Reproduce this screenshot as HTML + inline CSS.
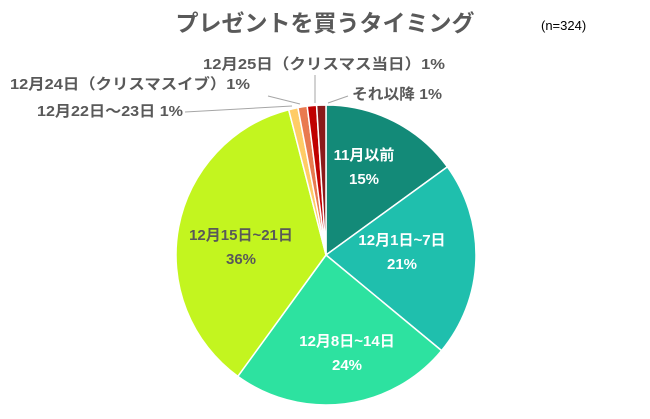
<!DOCTYPE html><html><head><meta charset="utf-8"><style>
body{margin:0;background:#fff}
svg text{font-family:"Liberation Sans","Noto Sans CJK JP",sans-serif;font-weight:bold}
</style></head><body>
<svg id="s" width="650" height="414" viewBox="0 0 650 414" xmlns="http://www.w3.org/2000/svg">
<rect width="650" height="414" fill="#fff"/>
<g id="pie"></g>
<text x="325" y="31" text-anchor="middle" font-size="23" fill="#595959">プレゼントを買うタイミング</text>
<text x="541" y="30" font-size="13" fill="#000" style="font-weight:normal">(n=324)</text>
<g stroke="#a6a6a6" stroke-width="1" fill="none">
<polyline points="315,103 315,75"/>
<polyline points="300,104 268,96"/>
<polyline points="292,106 185,112"/>
<polyline points="328,103 348,96"/>
</g>
<g font-size="15" fill="#595959">
<text x="203" y="69" textLength="242" lengthAdjust="spacingAndGlyphs">12月25日（クリスマス当日）1%</text>
<text x="10" y="89" textLength="240" lengthAdjust="spacingAndGlyphs">12月24日（クリスマスイブ）1%</text>
<text x="37" y="116" textLength="146" lengthAdjust="spacingAndGlyphs">12月22日～23日 1%</text>
<text x="352" y="99" textLength="90" lengthAdjust="spacingAndGlyphs">それ以降 1%</text>
</g>
<g font-size="15" fill="#fff" text-anchor="middle">
<text x="364" y="160">11月以前</text><text x="364" y="184">15%</text>
<text x="402" y="245">12月1日~7日</text><text x="402" y="269">21%</text>
<text x="347" y="346">12月8日~14日</text><text x="347" y="370">24%</text>
</g>
<g font-size="15" fill="#595959" text-anchor="middle">
<text x="241" y="240">12月15日~21日</text><text x="241" y="264">36%</text>
</g>
</svg>
<script>
var cx=326,cy=255,r=150;
var d=[[15,"#138a78"],[21,"#1fbfad"],[24,"#2de2a0"],[36,"#c3f51f"],[1,"#ffcc66"],[1,"#e97a4f"],[1,"#c00000"],[1,"#8b1a1a"]];
var a=0,g=document.getElementById("pie"),h="";
d.forEach(function(s){var a1=a+s[0]/100*2*Math.PI;
var x0=cx+r*Math.sin(a),y0=cy-r*Math.cos(a),x1=cx+r*Math.sin(a1),y1=cy-r*Math.cos(a1);
h+='<path d="M'+cx+','+cy+'L'+x0+','+y0+'A'+r+','+r+' 0 '+(a1-a>Math.PI?1:0)+' 1 '+x1+','+y1+'Z" fill="'+s[1]+'" stroke="#fff" stroke-width="1.5"/>';a=a1;});
g.innerHTML=h;
</script>
</body></html>
